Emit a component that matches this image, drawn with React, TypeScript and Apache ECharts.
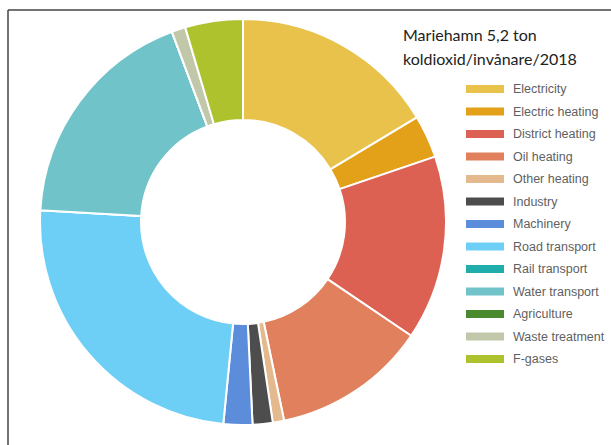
import React, { useEffect, useRef } from "react";
import * as echarts from "echarts";

const categories = [
  "Electricity",
  "Electric heating",
  "District heating",
  "Oil heating",
  "Other heating",
  "Industry",
  "Machinery",
  "Road transport",
  "Rail transport",
  "Water transport",
  "Agriculture",
  "Waste treatment",
  "F-gases",
];

const values = [16.4, 3.4, 14.7, 12.3, 0.9, 1.6, 2.3, 24.4, 0, 18.4, 0, 1.1, 4.6];

const colors = [
  "#E8C24B",
  "#E2A119",
  "#DC6153",
  "#E1805D",
  "#E4B98E",
  "#4D4D4D",
  "#5B8DDB",
  "#6DCFF6",
  "#1FAEAC",
  "#6FC3C9",
  "#4A8A2F",
  "#C0C8A9",
  "#AEC22E",
];

const titleLines = ["Mariehamn 5,2 ton", "koldioxid/invånare/2018"];

export default function App() {
  const ref = useRef<HTMLDivElement>(null);
  useEffect(() => {
    document.body.style.margin = "0";
    const chart = echarts.init(ref.current!, undefined, { renderer: "svg" });
    chart.setOption({
      animation: false,
      backgroundColor: "#ffffff",
      color: colors,
      title: {
        text: titleLines.join("\n"),
        left: 403,
        top: 22,
        padding: 0,
        textStyle: {
          fontFamily: "Lato",
          fontSize: 16,
          fontWeight: "normal",
          color: "#222222",
          lineHeight: 24,
        },
      },
      legend: {
        orient: "vertical",
        left: 464,
        top: 82,
        padding: 0,
        itemWidth: 40,
        itemHeight: 10,
        itemGap: 8.5,
        icon: "rect",
        data: categories,
        selectedMode: false,
        textStyle: {
          fontFamily: "Liberation Sans",
          fontSize: 12.5,
          color: "#5f5f5f",
          lineHeight: 14,
          padding: [0, 0, 0, 3],
        },
      },
      graphic: [
        {
          type: "line",
          shape: { x1: 8, y1: 10, x2: 611, y2: 10 },
          style: { stroke: "#444", lineWidth: 1.5 },
        },
        {
          type: "line",
          shape: { x1: 8, y1: 10, x2: 8, y2: 445 },
          style: { stroke: "#444", lineWidth: 1.5 },
        },
      ],
      series: [
        {
          type: "pie",
          center: [243, 222],
          radius: [102, 203],
          startAngle: 90,
          clockwise: true,
          label: { show: false },
          labelLine: { show: false },
          emphasis: { disabled: true },
          itemStyle: { borderColor: "#ffffff", borderWidth: 2 },
          data: categories.map((name, i) => ({ name, value: values[i] })),
        },
      ],
    });
    return () => chart.dispose();
  }, []);
  return <div ref={ref} style={{ width: 611, height: 445 }} />;
}
